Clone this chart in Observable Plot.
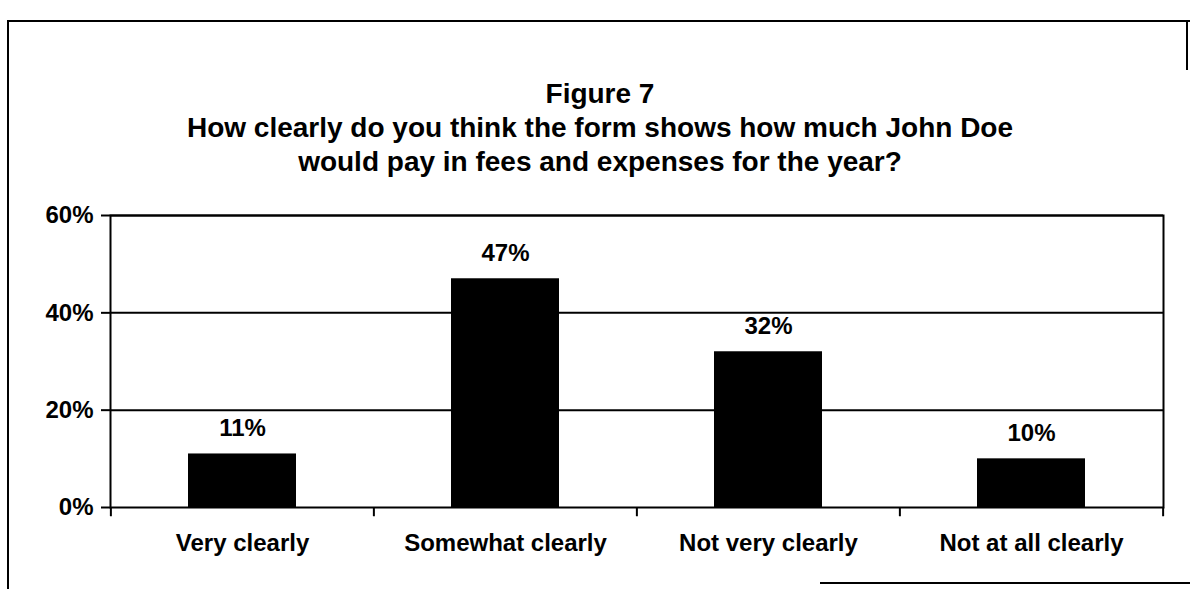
<!DOCTYPE html>
<html><head><meta charset="utf-8">
<script src="https://cdn.jsdelivr.net/npm/d3@7"></script>
<script src="https://cdn.jsdelivr.net/npm/@observablehq/plot@0.6"></script>
<style>
body{margin:0;background:#fff;}
#page{position:relative;width:1190px;height:589px;overflow:hidden;background:#fff;font-family:"Liberation Sans",Arial,sans-serif;font-weight:bold;color:#000;}
.ln{position:absolute;background:#000;}
#title{position:absolute;left:0;width:1200px;top:77px;text-align:center;font-size:28px;line-height:34px;}
#chart{position:absolute;left:0;top:191px;}
</style></head><body>
<div id="page">
  <div class="ln" style="left:7px;top:20px;width:1183px;height:2px"></div>
  <div class="ln" style="left:7px;top:20px;width:2px;height:569px"></div>
  <div class="ln" style="left:1186px;top:20px;width:2px;height:50px"></div>
  <div class="ln" style="left:820px;top:582px;width:370px;height:2px"></div>
  <div id="title">
    <div>Figure 7</div>
    <div>How clearly do you think the form shows how much John Doe</div>
    <div>would pay in fees and expenses for the year?</div>
  </div>
  <div id="chart"></div>
</div>
<script>
const categories = ["Very clearly", "Somewhat clearly", "Not very clearly", "Not at all clearly"];
const values = [11, 47, 32, 10];
const valueLabels = ["11%", "47%", "32%", "10%"];
const yTicks = [0, 20, 40, 60];

const W = 1190, H = 386, ml = 110, mr = 27, mt = 24, mb = 70;
const data = categories.map((c, i) => ({category: c, value: values[i], label: valueLabels[i]}));
const step = (W - ml - mr) / categories.length;
const font = '"Liberation Sans", Arial, sans-serif';

const plot = Plot.plot({
  width: W, height: H,
  marginLeft: ml, marginRight: mr, marginTop: mt, marginBottom: mb,
  style: {fontFamily: font, fontWeight: "bold", fontSize: "24px", color: "#000", background: "transparent", overflow: "visible"},
  x: {domain: categories, paddingInner: 0.59, paddingOuter: 0.295, label: null},
  y: {domain: [0, 60], label: null},
  marks: [
    Plot.ruleY(yTicks.filter(d => d > 0), {stroke: "#000", strokeWidth: 2}),
    Plot.barY(data, {x: "category", y: "value", fill: "#000"}),
    Plot.text(data, {x: "category", y: "value", text: "label", lineAnchor: "bottom", dy: -18, fontSize: 24, fontWeight: "bold", fill: "#000"}),
    Plot.axisY({ticks: yTicks, tickFormat: d => d + "%", tickSize: 9, tickPadding: 8, strokeWidth: 2, fontSize: 24, fontWeight: "bold", label: null}),
    Plot.axisX({tickSize: 0, tickPadding: 26, fontSize: 24, fontWeight: "bold", label: null}),
    Plot.frame({stroke: "#000", strokeWidth: 2}),
    Plot.ruleX(categories, {x: d => d, y1: () => 0, y2: () => -1.9, dx: -step / 2, stroke: "#000", strokeWidth: 2}),
    Plot.ruleX(categories.slice(-1), {x: d => d, y1: () => 0, y2: () => -1.9, dx: step / 2, stroke: "#000", strokeWidth: 2})
  ]
});
document.getElementById("chart").appendChild(plot);
</script>
</body></html>
